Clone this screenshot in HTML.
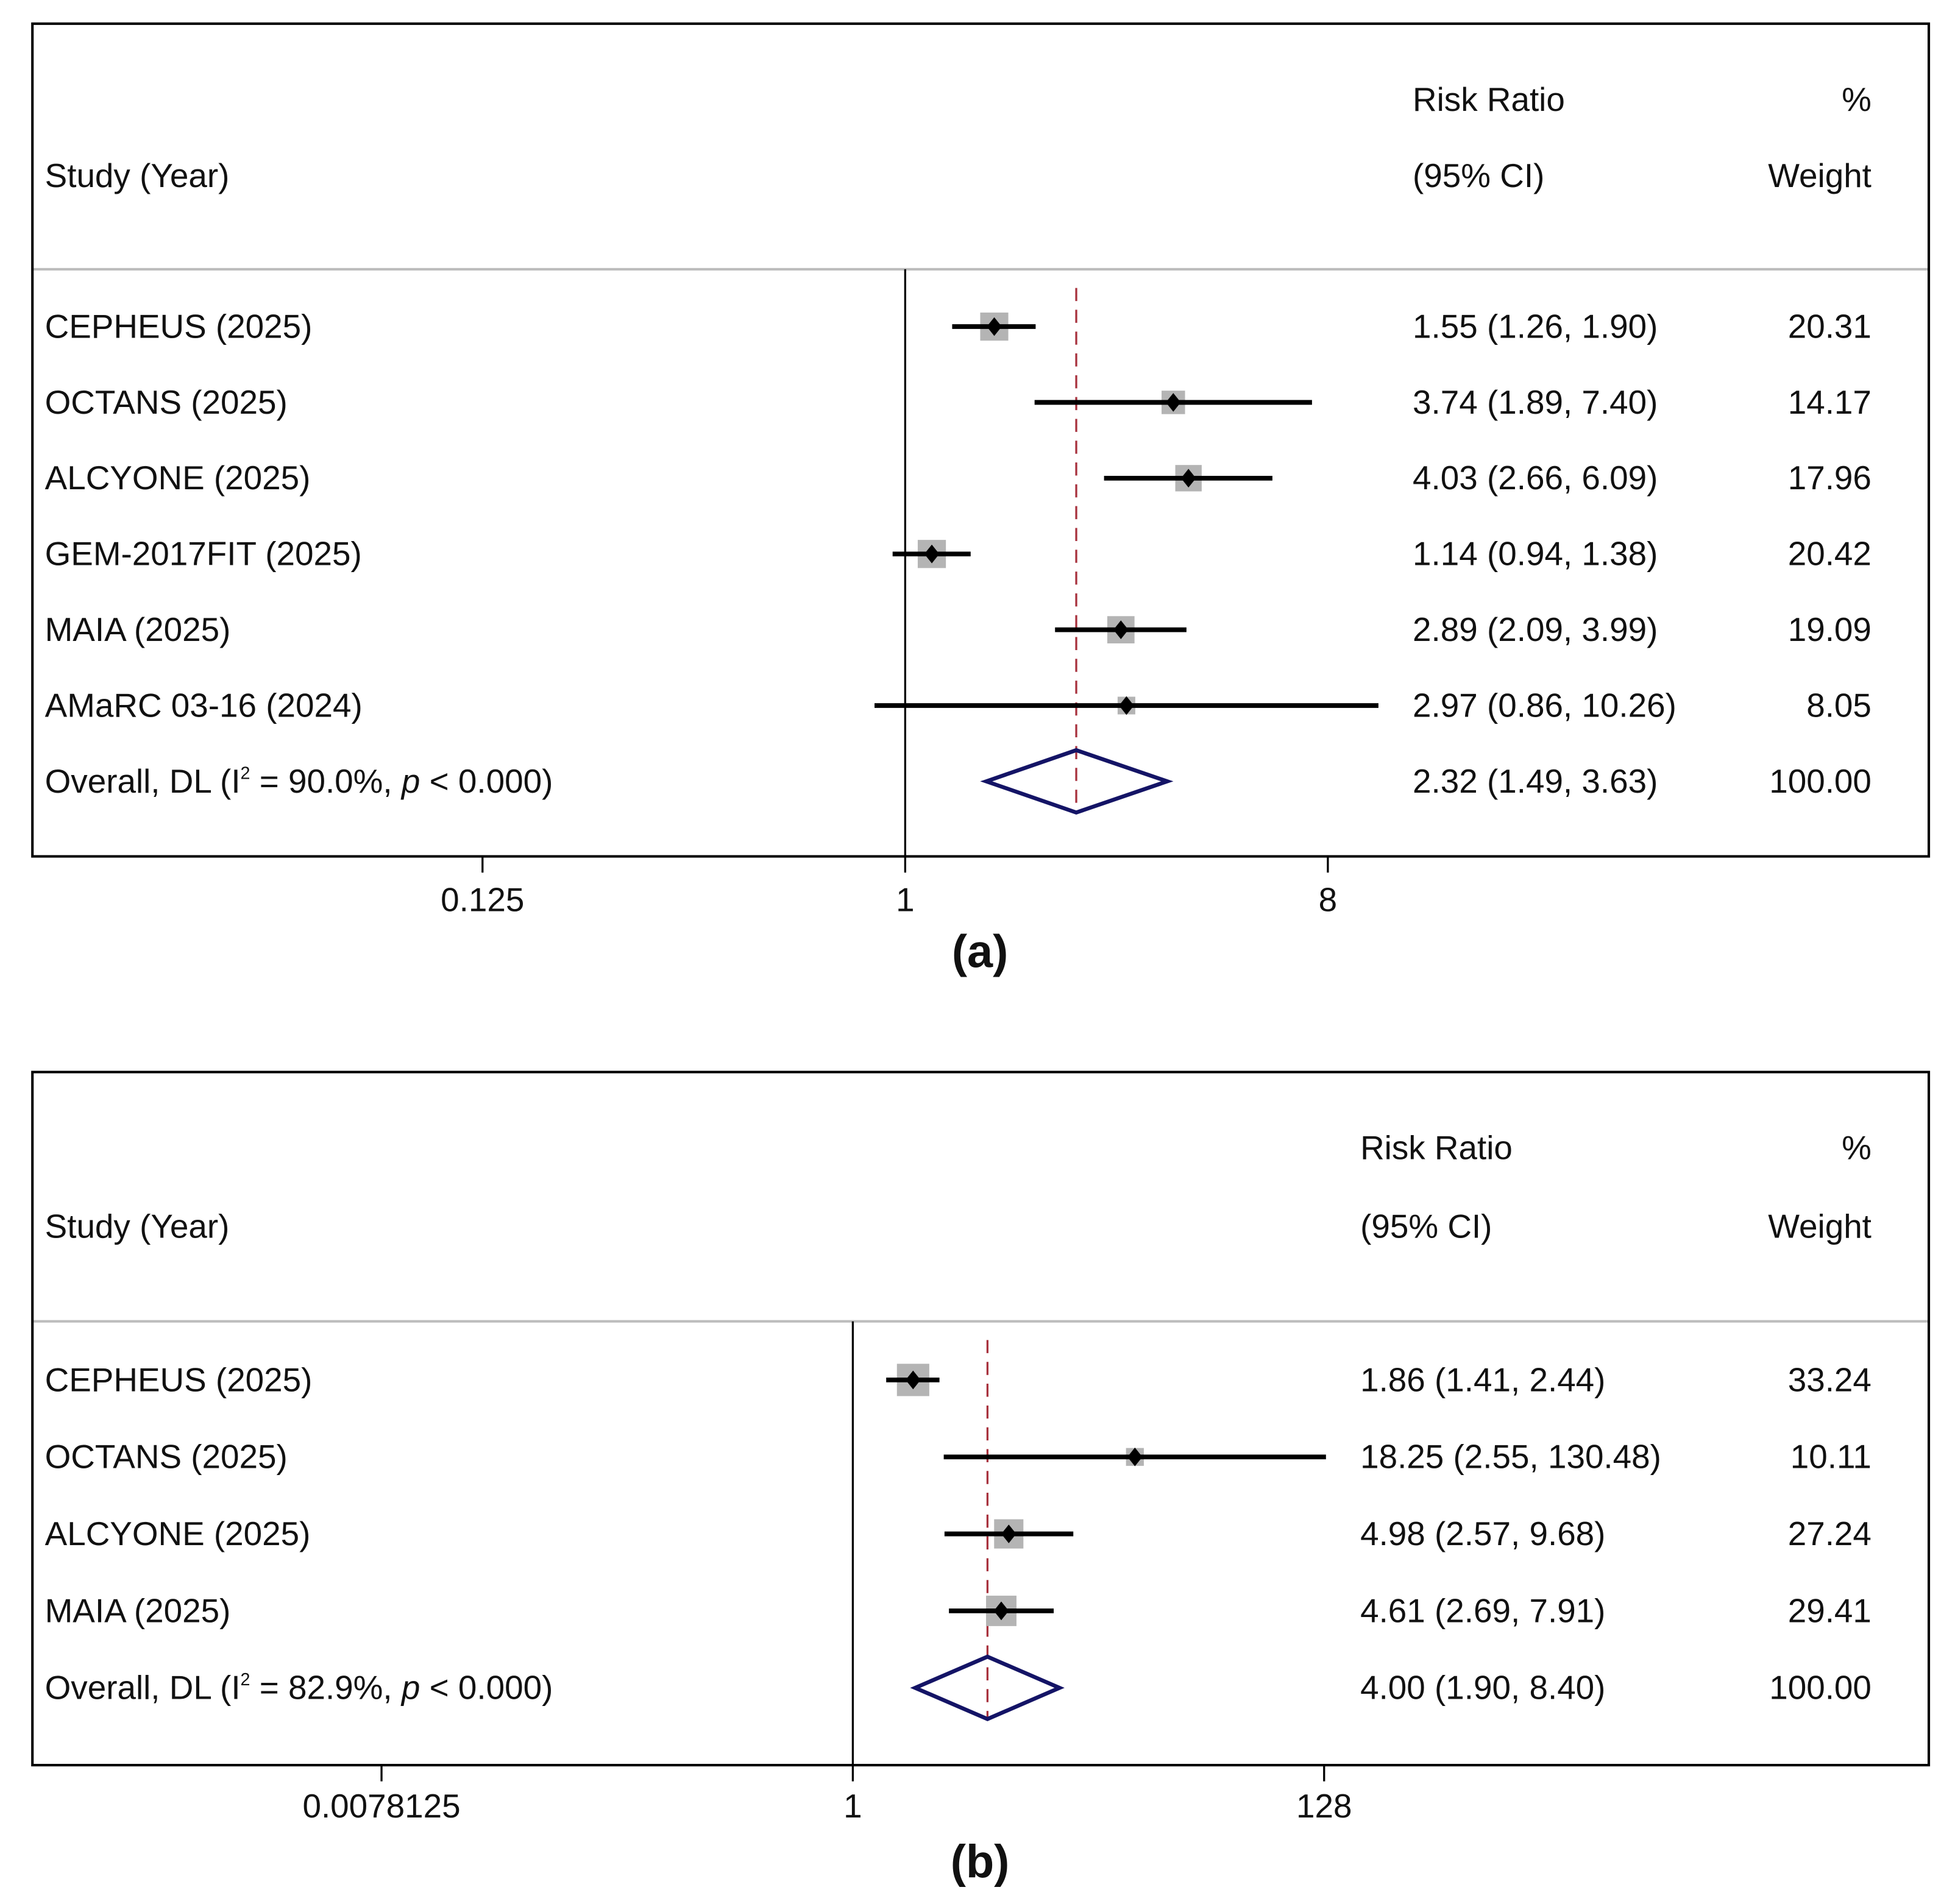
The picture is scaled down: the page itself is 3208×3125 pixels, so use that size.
<!DOCTYPE html>
<html><head><meta charset="utf-8"><style>
html,body{margin:0;padding:0;background:#fff;}
svg{display:block;}
text{font-family:"Liberation Sans",Arial,sans-serif;font-size:26.8px;fill:#111;}
</style></head>
<body>
<svg id="chart" xmlns="http://www.w3.org/2000/svg" width="3208" height="3125" viewBox="0 0 1568 1527.4" preserveAspectRatio="none">
<rect x="0" y="0" width="1568" height="1528" fill="#fff"/>
</svg>
<script>
// ---- Panel (a) data ----
const studiesA = ["CEPHEUS (2025)","OCTANS (2025)","ALCYONE (2025)","GEM-2017FIT (2025)","MAIA (2025)","AMaRC 03-16 (2024)"];
const rrA = [1.55,3.74,4.03,1.14,2.89,2.97];
const lowA = [1.26,1.89,2.66,0.94,2.09,0.86];
const highA = [1.90,7.40,6.09,1.38,3.99,10.26];
const ciTextA = ["1.55 (1.26, 1.90)","3.74 (1.89, 7.40)","4.03 (2.66, 6.09)","1.14 (0.94, 1.38)","2.89 (2.09, 3.99)","2.97 (0.86, 10.26)"];
const weightsA = [20.31,14.17,17.96,20.42,19.09,8.05];
const overallA = [2.32,1.49,3.63];
const overallLabelA = "90.0%";
const overallTextA = "2.32 (1.49, 3.63)";
const ticksA = [0.125,1,8];
const tickLabelsA = ["0.125","1","8"];
// ---- Panel (b) data ----
const studiesB = ["CEPHEUS (2025)","OCTANS (2025)","ALCYONE (2025)","MAIA (2025)"];
const rrB = [1.86,18.25,4.98,4.61];
const lowB = [1.41,2.55,2.57,2.69];
const highB = [2.44,130.48,9.68,7.91];
const ciTextB = ["1.86 (1.41, 2.44)","18.25 (2.55, 130.48)","4.98 (2.57, 9.68)","4.61 (2.69, 7.91)"];
const weightsB = [33.24,10.11,27.24,29.41];
const overallB = [4.00,1.90,8.40];
const overallLabelB = "82.9%";
const overallTextB = "4.00 (1.90, 8.40)";
const ticksB = [0.0078125,1,128];
const tickLabelsB = ["0.0078125","1","128"];

const NS = "http://www.w3.org/2000/svg";
const svg = document.getElementById('chart');
function mk(tag, attrs, parent){
  const e = document.createElementNS(NS, tag);
  for (const k in attrs) e.setAttribute(k, attrs[k]);
  (parent||svg).appendChild(e);
  return e;
}
function txt(x,y,s,anchor,parent){
  const t = mk('text',{x:x,y:y,'text-anchor':anchor||'start'},parent);
  t.textContent = s;
  return t;
}

function panel(cfg){
  const g = mk('g',{});
  
  
  const X = v => cfg.x1 + Math.log2(v)*cfg.pxPerLog2;
  const h1 = txt(36, cfg.hdrY2, "Study (Year)", 'start', g);
  
  
  const h2 = txt(cfg.ciX, cfg.hdrY1, "Risk Ratio", 'start', g);
  
  
  const h3 = txt(cfg.ciX, cfg.hdrY2, "(95% CI)", 'start', g);
  
  
  const h4 = txt(1501, cfg.hdrY1, "%", 'end', g);
  
  
  const h5 = txt(1501, cfg.hdrY2, "Weight", 'end', g);
  
  
  const sep = mk('line',{x1:26,x2:1547,y1:cfg.sepY,y2:cfg.sepY,stroke:'#bdbdbd','stroke-width':2},g);
  
  
  const nl = mk('line',{x1:X(1),x2:X(1),y1:cfg.sepY,y2:cfg.boxB,stroke:'#000','stroke-width':1.6},g);
  
  
  const oy = cfg.rowY0 + cfg.studies.length*cfg.rowH;
  const dl = mk('line',{x1:X(cfg.overall[0]),x2:X(cfg.overall[0]),y1:cfg.sepY+15,y2:oy+25,stroke:'#a8323e','stroke-width':1.6,'stroke-dasharray':'10.5 7'},g);
  
  
  cfg.studies.forEach((s,i)=>{
    const y = cfg.rowY0 + i*cfg.rowH;
    const lab = txt(36, y+9, s, 'start', g);
    
    
    const sz = cfg.sqK*Math.sqrt(cfg.weights[i]);
    const sq = mk('rect',{x:X(cfg.rr[i])-sz/2,y:y-sz/2,width:sz,height:sz,fill:'#b4b4b4'},g);
    
    
    const ci = mk('line',{x1:X(cfg.low[i]),x2:X(cfg.high[i]),y1:y,y2:y,stroke:'#000','stroke-width':3.8},g);
    
    
    const px = X(cfg.rr[i]);
    const pt = mk('polygon',{points:`${px-6},${y} ${px},${y-7.5} ${px+6},${y} ${px},${y+7.5}`,fill:'#000'},g);
    
    
    const ct = txt(cfg.ciX, y+9, cfg.ciText[i], 'start', g);
    
    
    const wt = txt(1501, y+9, cfg.weights[i].toFixed(2), 'end', g);
    
    
  });
  const ol = txt(36, oy+9, "", 'start', g);
  
  
  ol.innerHTML = 'Overall, DL (I<tspan dy="-11" font-size="14">2</tspan><tspan dy="11"> = '+cfg.overallLabel+', </tspan><tspan font-style="italic">p</tspan> &lt; 0.000)';
  const ox = X(cfg.overall[0]), ol1 = X(cfg.overall[1]), oh1 = X(cfg.overall[2]);
  const dm = mk('polygon',{points:`${ol1},${oy} ${ox},${oy-25} ${oh1},${oy} ${ox},${oy+25}`,fill:'none',stroke:'#141466','stroke-width':3.2},g);
  
  
  const ot = txt(cfg.ciX, oy+9, cfg.overallText, 'start', g);
  
  
  const ow = txt(1501, oy+9, "100.00", 'end', g);
  
  
  const bx = mk('rect',{x:26,y:cfg.boxT,width:1521,height:cfg.boxB-cfg.boxT,fill:'none',stroke:'#000','stroke-width':2},g);
  
  
  cfg.ticks.forEach((t,i)=>{
    const tx = X(t);
    const tk = mk('line',{x1:tx,x2:tx,y1:cfg.boxB,y2:cfg.boxB+13,stroke:'#000','stroke-width':1.6},g);
    
    
    const tl = txt(tx, cfg.tickLabY, cfg.tickLabels[i], 'middle', g);
    
    
  });
  const pl = txt(786, cfg.panelLabY, cfg.panelLabel, 'middle', g);
  pl.setAttribute('style', 'font-size:37px;font-weight:bold;');
  
  
}

panel({name:'panel-a', x1:726, pxPerLog2:113, boxT:19, boxB:687, sepY:216, hdrY1:89, hdrY2:150,
  ciX:1133, rowY0:262, rowH:60.8, studies:studiesA, rr:rrA, low:lowA, high:highA, ciText:ciTextA,
  weights:weightsA, overall:overallA, overallLabel:overallLabelA, overallText:overallTextA,
  ticks:ticksA, tickLabels:tickLabelsA, tickLabY:731, panelLabY:776, panelLabel:'(a)', sqK:5.0});
panel({name:'panel-b', x1:684, pxPerLog2:54, boxT:860, boxB:1416, sepY:1060, hdrY1:930, hdrY2:993,
  ciX:1091, rowY0:1107, rowH:61.75, studies:studiesB, rr:rrB, low:lowB, high:highB, ciText:ciTextB,
  weights:weightsB, overall:overallB, overallLabel:overallLabelB, overallText:overallTextB,
  ticks:ticksB, tickLabels:tickLabelsB, tickLabY:1458, panelLabY:1506, panelLabel:'(b)', sqK:4.5});
</script>
</body></html>
